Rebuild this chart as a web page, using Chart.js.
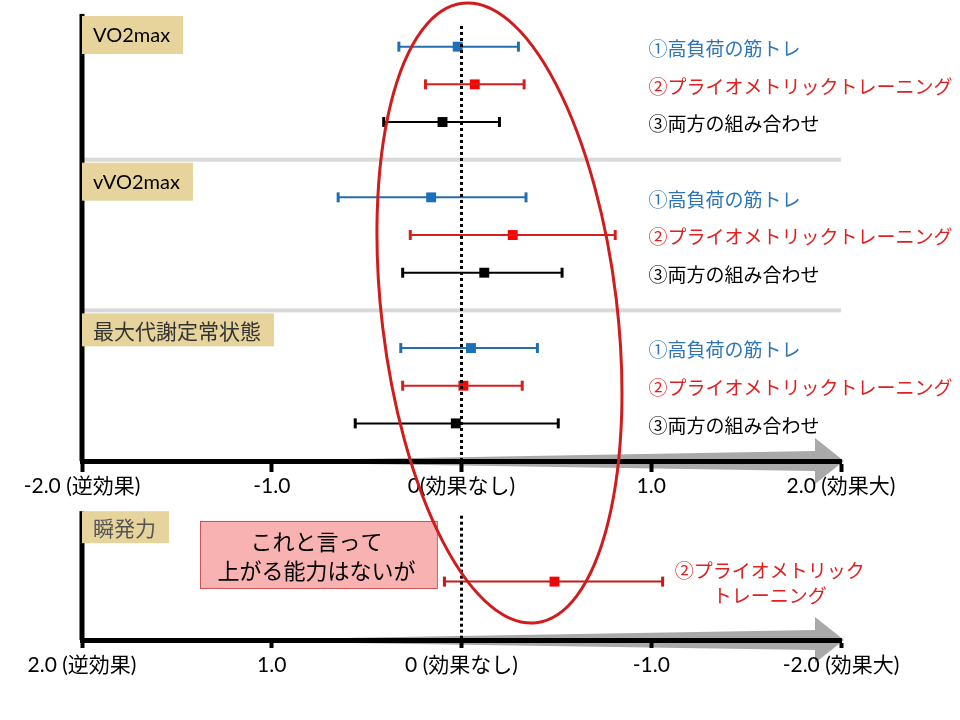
<!DOCTYPE html>
<html lang="ja">
<head>
<meta charset="utf-8">
<title>効果量</title>
<script src="https://cdn.jsdelivr.net/npm/chart.js@4/dist/chart.umd.min.js"></script>
<style>
  html, body { margin: 0; padding: 0; background: #fff; }
  #wrap { position: relative; width: 960px; height: 720px; }
</style>
</head>
<body>
<div id="wrap"><canvas id="forest"></canvas></div>
<script>
const groups = ['VO2max', 'vVO2max', '最大代謝定常状態'];
const methods = ['①高負荷の筋トレ', '②プライオメトリックトレーニング', '③両方の組み合わせ'];

// effect size and 95% CI, one entry per method
const vo2maxMean = [-0.02, 0.07, -0.10];
const vo2maxLow = [-0.33, -0.19, -0.41];
const vo2maxHigh = [0.30, 0.33, 0.20];

const vvo2maxMean = [-0.16, 0.27, 0.12];
const vvo2maxLow = [-0.65, -0.27, -0.31];
const vvo2maxHigh = [0.34, 0.81, 0.53];

const mlssMean = [0.05, 0.01, -0.03];
const mlssLow = [-0.32, -0.31, -0.56];
const mlssHigh = [0.40, 0.32, 0.51];

// lower panel (axis is reversed)
const powerGroup = '瞬発力';
const powerMethod = ['②プライオメトリック', 'トレーニング'];
const powerMean = -0.49;
const powerLow = -1.06;
const powerHigh = 0.09;

const xTickValues = [-2, -1, 0, 1, 2];
const xTickLabels = ['-2.0 (逆効果)', '-1.0', '0(効果なし)', '1.0', '2.0 (効果大)'];
const x2TickValues = [2, 1, 0, -1, -2];
const x2TickLabels = ['2.0 (逆効果)', '1.0', '0 (効果なし)', '-1.0', '-2.0 (効果大)'];

const note = ['これと言って', '上がる能力はないが'];

const means = [vo2maxMean, vvo2maxMean, mlssMean];
const lows = [vo2maxLow, vvo2maxLow, mlssLow];
const highs = [vo2maxHigh, vvo2maxHigh, mlssHigh];

const lineColors = ['#236fae', '#d41f1f', '#000000'];
const markColors = ['#1a6fc0', '#ff0000', '#000000'];
const textColors = ['#2e75b6', '#e02020', '#000000'];
const FONT = 'Lato, "Noto Sans CJK JP", sans-serif';
const JFONT = '"Noto Sans CJK JP", sans-serif';

const rowOf = (g, i) => g * 4 + i + 1;
const AXIS_ROW = 12;
const POWER_ROW = 15.2;
const Y_MAX = 16.75;

const datasets = [];
// dotted "no effect" lines
datasets.push({ showLine: true, xAxisID: 'x', data: [{ x: 0, y: 0.45 }, { x: 0, y: AXIS_ROW }],
  borderColor: '#000', borderWidth: 3, borderDash: [3, 3], pointRadius: 0 });
datasets.push({ showLine: true, xAxisID: 'x2', data: [{ x: 0, y: 13.45 }, { x: 0, y: Y_MAX }],
  borderColor: '#000', borderWidth: 3, borderDash: [3, 3], pointRadius: 0 });

function addRow(axis, y, lo, mean, hi, lineColor, markColor) {
  datasets.push({
    showLine: true, xAxisID: axis, data: [{ x: lo, y }, { x: hi, y }],
    borderColor: lineColor, borderWidth: 2,
    pointStyle: 'line', pointRotation: 90, pointRadius: 5,
    pointBorderWidth: 3, pointBorderColor: lineColor
  });
  datasets.push({
    xAxisID: axis, data: [{ x: mean, y }],
    pointStyle: 'rect', pointRadius: 7, pointBorderWidth: 0,
    pointBackgroundColor: markColor
  });
}

groups.forEach((g, gi) => {
  methods.forEach((m, mi) => {
    addRow('x', rowOf(gi, mi), lows[gi][mi], means[gi][mi], highs[gi][mi], lineColors[mi], markColors[mi]);
  });
});
addRow('x2', POWER_ROW, powerLow, powerMean, powerHigh, '#c81818', '#ff0000');

function labelBox(ctx, text, left, top, h, font, color) {
  ctx.font = font;
  const w = ctx.measureText(text).width + 24;
  ctx.fillStyle = '#e6d49c';
  ctx.fillRect(left, top, w, h);
  ctx.fillStyle = color;
  ctx.textAlign = 'left';
  ctx.textBaseline = 'middle';
  ctx.fillText(text, left + 11, top + h / 2 + 1);
}

function arrow(ctx, xs, right, yA) {
  const hb = right - 26;
  ctx.fillStyle = '#a9a9a9';
  ctx.beginPath();
  ctx.moveTo(xs, yA - 1);
  ctx.lineTo(hb, yA - 10);
  ctx.lineTo(hb, yA - 23);
  ctx.lineTo(right + 3, yA);
  ctx.lineTo(hb, yA + 23);
  ctx.lineTo(hb, yA + 10);
  ctx.lineTo(xs, yA + 2);
  ctx.closePath();
  ctx.fill();
}

const decor = {
  id: 'decor',
  beforeDraw(chart) {
    const { ctx } = chart;
    const x = chart.scales.x, y = chart.scales.y;
    ctx.save();
    // separators between outcomes
    ctx.fillStyle = '#d9d9d9';
    [4, 8].forEach(r => ctx.fillRect(x.left, y.getPixelForValue(r) - 2, x.right - x.left, 4));
    // grey arrows behind the axes
    arrow(ctx, x.getPixelForValue(-0.85), x.right, y.getPixelForValue(AXIS_ROW));
    arrow(ctx, x.getPixelForValue(-0.95), x.right, y.getPixelForValue(Y_MAX));
    // left axis lines
    ctx.fillStyle = '#000';
    const t1 = y.getPixelForValue(0.13), b1 = y.getPixelForValue(AXIS_ROW);
    ctx.fillRect(x.left - 2.5, t1, 5, b1 - t1);
    const t2 = y.getPixelForValue(13.33), b2 = y.getPixelForValue(Y_MAX);
    ctx.fillRect(x.left - 2.5, t2, 5, b2 - t2);
    // outcome labels
    labelBox(ctx, groups[0], x.left, y.getPixelForValue(0) + 7, 38, '20px ' + FONT, '#000');
    labelBox(ctx, groups[1], x.left, y.getPixelForValue(4) + 3, 38, '20px ' + FONT, '#000');
    labelBox(ctx, groups[2], x.left, y.getPixelForValue(8) + 3, 33, '21px ' + JFONT, '#333');
    labelBox(ctx, powerGroup, x.left, t2, 32, '21px ' + JFONT, '#555');
    // note box
    const nl = x.getPixelForValue(-1.378), nr = x.getPixelForValue(-0.13);
    const nt = y.getPixelForValue(13.59), nb = y.getPixelForValue(15.37);
    ctx.fillStyle = '#f8b2b2';
    ctx.fillRect(nl, nt, nr - nl, nb - nt);
    ctx.strokeStyle = '#d05050';
    ctx.lineWidth = 1;
    ctx.strokeRect(nl + 0.5, nt + 0.5, nr - nl, nb - nt);
    ctx.fillStyle = '#000';
    ctx.font = '22px ' + JFONT;
    ctx.textAlign = 'center';
    ctx.textBaseline = 'middle';
    ctx.fillText(note[0], (nl + nr) / 2 - 2, nt + 21);
    ctx.fillText(note[1], (nl + nr) / 2 - 2, nt + 50);
    ctx.restore();
  },
  afterDraw(chart) {
    const { ctx } = chart;
    const x = chart.scales.x, y = chart.scales.y;
    ctx.save();
    // method labels at the right
    ctx.font = '19px ' + JFONT;
    ctx.textAlign = 'left';
    ctx.textBaseline = 'middle';
    groups.forEach((g, gi) => {
      methods.forEach((m, mi) => {
        ctx.fillStyle = textColors[mi];
        ctx.fillText(m, x.getPixelForValue(0.985), y.getPixelForValue(rowOf(gi, mi)) + 2);
      });
    });
    ctx.textAlign = 'center';
    ctx.fillStyle = textColors[1];
    ctx.fillText(powerMethod[0], x.getPixelForValue(1.625), y.getPixelForValue(14.92));
    ctx.fillText(powerMethod[1], x.getPixelForValue(1.625), y.getPixelForValue(15.58));
    // red ellipse
    const cx = x.getPixelForValue(0.2), cy = y.getPixelForValue(8.07);
    const rx = x.getPixelForValue(0.62) - x.getPixelForValue(0);
    const ry = y.getPixelForValue(8.28) - y.getPixelForValue(0);
    ctx.strokeStyle = '#d01c1c';
    ctx.lineWidth = 3;
    ctx.beginPath();
    ctx.ellipse(cx, cy, rx, ry, -6.8 * Math.PI / 180, 0, Math.PI * 2);
    ctx.stroke();
    ctx.restore();
  }
};

const axisCommon = {
  type: 'linear',
  axis: 'x',
  min: -2,
  max: 2,
  ticks: {
    stepSize: 1, autoSkip: false, maxRotation: 0, minRotation: 0,
    color: '#000', padding: 5, font: { family: FONT, size: 21 }
  },
  grid: { display: true, drawOnChartArea: false, drawTicks: true, tickLength: 8, tickWidth: 4, tickColor: '#000' },
  border: { display: true, width: 5, color: '#000' }
};

new Chart(document.getElementById('forest'), {
  type: 'scatter',
  data: { datasets },
  options: {
    responsive: true,
    maintainAspectRatio: false,
    animation: false,
    events: [],
    layout: { padding: { left: 82, right: 119, top: 9, bottom: 0 } },
    plugins: { legend: { display: false }, tooltip: { enabled: false } },
    scales: {
      y: { type: 'linear', reverse: true, min: 0, max: Y_MAX, display: false },
      x: {
        ...axisCommon,
        position: { y: AXIS_ROW },
        ticks: { ...axisCommon.ticks, callback: v => xTickLabels[xTickValues.indexOf(v)] },
        afterFit: s => { s.height = 0; }
      },
      x2: {
        ...axisCommon,
        position: 'bottom',
        reverse: true,
        ticks: { ...axisCommon.ticks, callback: v => x2TickLabels[x2TickValues.indexOf(v)] },
        afterFit: s => { s.height = 80; }
      }
    }
  },
  plugins: [decor]
});
</script>
</body>
</html>
